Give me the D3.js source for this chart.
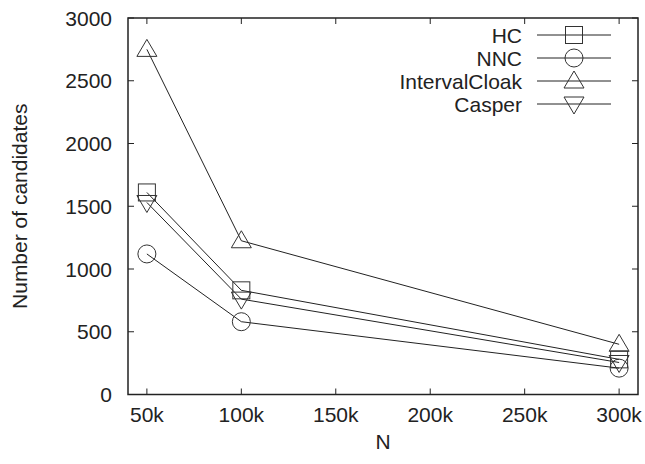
<!DOCTYPE html>
<html><head><meta charset="utf-8">
<script src="https://cdn.jsdelivr.net/npm/d3@7"></script>
<style>body{margin:0;background:#fff}svg{display:block}text{font-family:"Liberation Sans",Arial,sans-serif;fill:#222}</style>
</head><body><svg id="c" width="645" height="464"></svg>
<script>
const N = [50000, 100000, 300000];
const HC = [1610, 830, 280];
const NNC = [1120, 580, 210];
const IntervalCloak = [2750, 1225, 400];
const Casper = [1530, 760, 255];
const seriesNames = ["HC", "NNC", "IntervalCloak", "Casper"];
const seriesSymbols = ["square", "circle", "triangleUp", "triangleDown"];
const xTicks = [50000, 100000, 150000, 200000, 250000, 300000];
const yTicks = [0, 500, 1000, 1500, 2000, 2500, 3000];

const series = [HC, NNC, IntervalCloak, Casper];
const svg = d3.select("#c");
const L = 128, R = 638, T = 18, B = 394.5;
const x = d3.scaleLinear().domain([40000, 310000]).range([L, R]);
const y = d3.scaleLinear().domain([0, 3000]).range([B, T]);
const stroke = "#222";
const fs = 21;

const g = svg.append("g");
xTicks.forEach(t => {
  g.append("line").attr("x1", x(t)).attr("x2", x(t)).attr("y1", B).attr("y2", B - 6).attr("stroke", stroke);
  g.append("line").attr("x1", x(t)).attr("x2", x(t)).attr("y1", T).attr("y2", T + 6).attr("stroke", stroke);
  g.append("text").attr("x", x(t)).attr("y", B + 27).attr("text-anchor", "middle").attr("font-size", fs).text(d3.format("d")(t / 1000) + "k");
});
yTicks.forEach(t => {
  g.append("line").attr("x1", L).attr("x2", L + 6).attr("y1", y(t)).attr("y2", y(t)).attr("stroke", stroke);
  g.append("line").attr("x1", R).attr("x2", R - 6).attr("y1", y(t)).attr("y2", y(t)).attr("stroke", stroke);
  g.append("text").attr("x", L - 16).attr("y", y(t) + 7.5).attr("text-anchor", "end").attr("font-size", fs).text(t);
});
g.append("rect").attr("x", L).attr("y", T).attr("width", R - L).attr("height", B - T).attr("fill", "none").attr("stroke", stroke).attr("stroke-width", 1.5);

svg.append("text").attr("x", (L + R) / 2).attr("y", 449).attr("text-anchor", "middle").attr("font-size", fs).text("N");
svg.append("text").attr("transform", `translate(27,${(T + B) / 2}) rotate(-90)`).attr("text-anchor", "middle").attr("font-size", fs).text("Number of candidates");

function marker(sel, sym, cx, cy) {
  const c = "#333";
  if (sym === "square") sel.append("rect").attr("x", cx - 8.5).attr("y", cy - 8.5).attr("width", 17).attr("height", 17).attr("fill", "none").attr("stroke", c);
  else if (sym === "circle") sel.append("circle").attr("cx", cx).attr("cy", cy).attr("r", 9).attr("fill", "none").attr("stroke", c);
  else if (sym === "triangleUp") sel.append("path").attr("d", `M${cx},${cy - 10}L${cx + 10},${cy + 7}L${cx - 10},${cy + 7}Z`).attr("fill", "none").attr("stroke", c);
  else sel.append("path").attr("d", `M${cx},${cy + 10}L${cx + 10},${cy - 7}L${cx - 10},${cy - 7}Z`).attr("fill", "none").attr("stroke", c);
}

const line = d3.line().x((d, i) => x(N[i])).y(d => y(d));
series.forEach((s, k) => {
  svg.append("path").attr("d", line(s)).attr("fill", "none").attr("stroke", stroke).attr("stroke-width", 1);
  s.forEach((v, i) => marker(svg, seriesSymbols[k], x(N[i]), y(v)));
});

seriesNames.forEach((name, k) => {
  const cy = 35 + k * 23;
  svg.append("text").attr("x", 522).attr("y", cy + 7.5).attr("text-anchor", "end").attr("font-size", fs).text(name);
  svg.append("line").attr("x1", 537).attr("x2", 611).attr("y1", cy).attr("y2", cy).attr("stroke", stroke);
  marker(svg, seriesSymbols[k], 574, cy);
});
</script></body></html>
